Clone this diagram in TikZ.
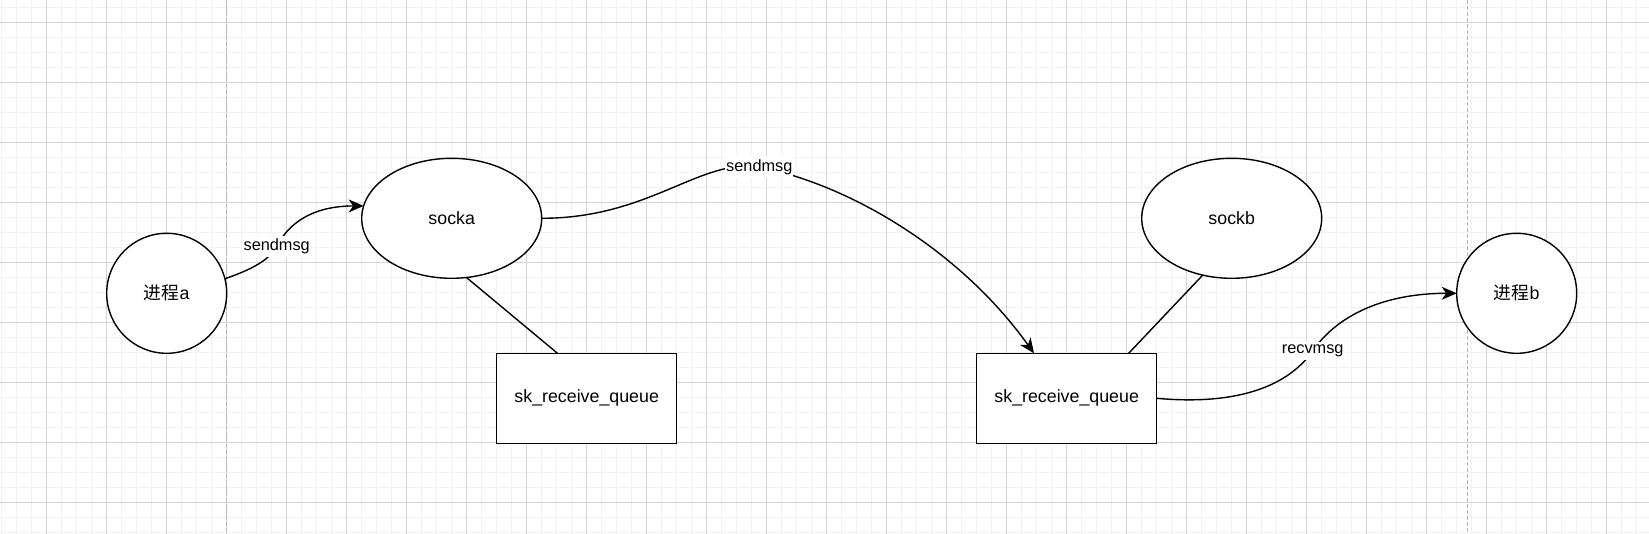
\documentclass[tikz,border=0pt]{standalone}
\usepackage{fontspec}
\setmainfont{Liberation Sans}
\newfontfamily\cjk{Noto Sans CJK SC}
\usetikzlibrary{arrows.meta,shapes.geometric,calc}
\begin{document}
\begin{tikzpicture}[x=1pt,y=-1pt,
  minorgrid/.style={draw=black!5,line width=1pt},
  majorgrid/.style={draw=black!17,line width=1pt},
  lane/.style={draw=black!28,line width=1pt,dash pattern=on 4pt off 2pt},
  shapebase/.style={draw,fill=white,line width=1.4pt,inner sep=0pt,outer sep=0pt,font=\fontsize{17.8}{20}\selectfont},
  proc/.style={shapebase,circle,minimum size=120pt},
  sock/.style={shapebase,ellipse,minimum width=180pt,minimum height=120pt},
  queue/.style={shapebase,rectangle,minimum width=180pt,minimum height=90pt},
  link/.style={line width=1.4pt},
  flow/.style={line width=1.4pt,-{Stealth[length=15pt,width=13pt,inset=4.5pt]}},
  elabel/.style={fill=white,inner xsep=1pt,inner ysep=3pt,font=\fontsize{16.3}{18}\selectfont}]
\useasboundingbox (0,0) rectangle (1649,534);
\fill[white] (0,0) rectangle (1649,534);
% grid
\foreach \i in {0,...,109} {\draw[minorgrid] ({1.3+15*\i},0) -- ({1.3+15*\i},534);}
\foreach \j in {0,...,35} {\draw[minorgrid] (0,{7.3+15*\j}) -- (1649,{7.3+15*\j});}
\foreach \i in {0,...,26} {\draw[majorgrid] ({46.3+60*\i},0) -- ({46.3+60*\i},534);}
\foreach \j in {0,...,8} {\draw[majorgrid] (0,{22.3+60*\j}) -- (1649,{22.3+60*\j});}
% lanes
\draw[lane] (226.7,0) -- (226.7,534);
\draw[lane] (1467.3,0) -- (1467.3,534);
% nodes
\node[proc] (pa) at (166.7,293.3) {{\cjk 进程}a};
\node[sock] (sa) at (451.7,218.3) {socka};
\node[queue] (b1) at (586.7,398.3) {sk\_receive\_queue};
\node[queue] (b2) at (1066.7,398.3) {sk\_receive\_queue};
\node[sock] (sb) at (1231.7,218.3) {sockb};
\node[proc] (pb) at (1516.7,293.3) {{\cjk 进程}b};
% plain links
\draw[link] (sa.-76) -- (b1.123.7);
\draw[link] (sb.243.2) -- (b2.36.6);
% flows
\coordinate (m1) at (276.7,246.7);
\coordinate (m2) at (759.3,167);
\coordinate (m3) at (1312.7,351);
\draw[flow] (pa.14) .. controls (247,271) and (268,262) .. (m1) .. controls (285,230) and (305,206) .. (sa.172);
\draw[flow] (sa.east) .. controls (650,218.3) and (700,158) .. (m2) .. controls (850,185) and (960,250) .. (b2.126.6);
\draw[flow] (b2.east) .. controls (1230,405) and (1285,390) .. (m3) .. controls (1335,318) and (1380,293.3) .. (pb.west);
% edge labels
\node[elabel] (l1) at (m1) {sendmsg};
\node[elabel] (l2) at (m2) {sendmsg};
\node[elabel] (l3) at (m3) {recvmsg};
\end{tikzpicture}
\end{document}
